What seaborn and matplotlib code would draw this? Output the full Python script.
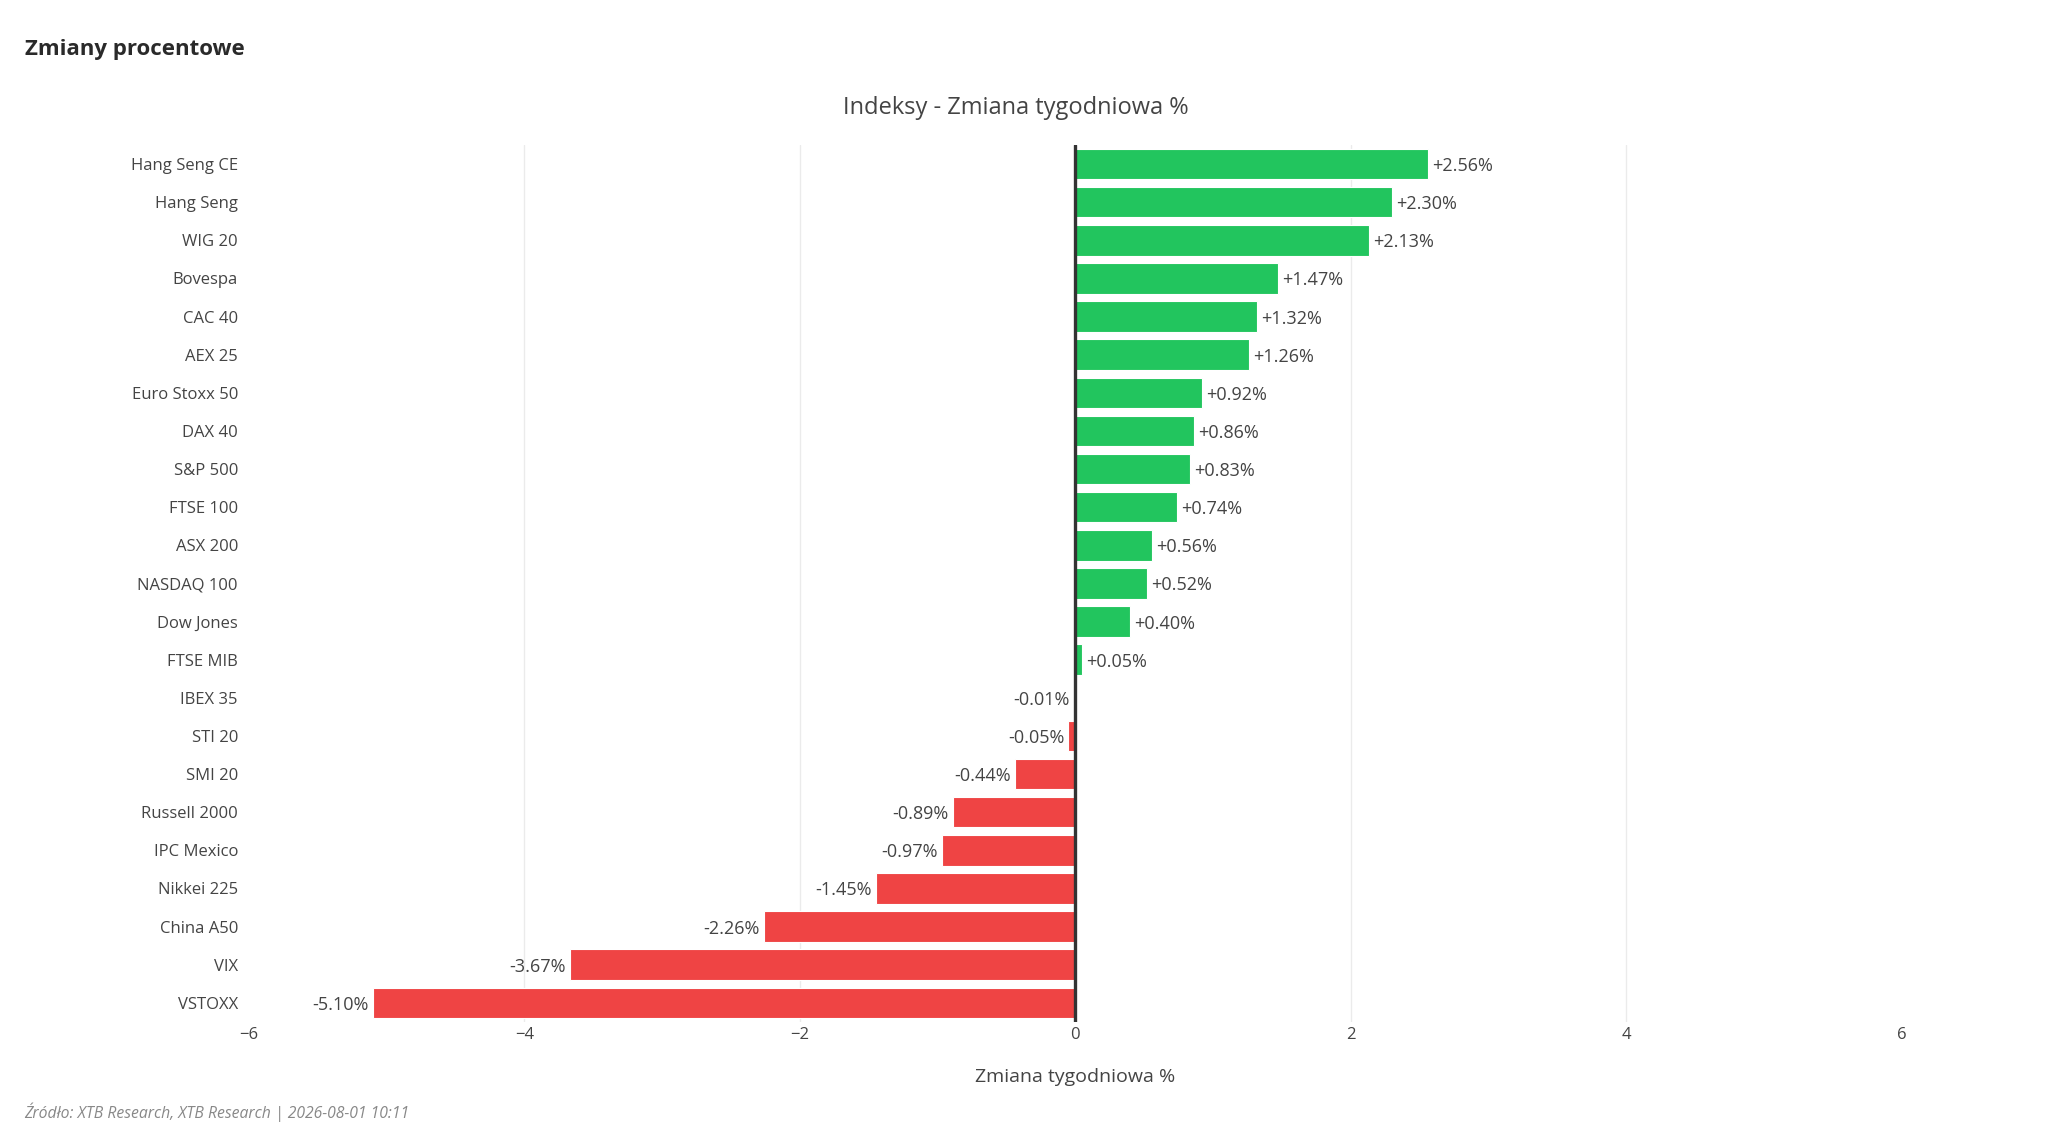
import pandas as pd
import matplotlib.pyplot as plt
import seaborn as sns

# Weekly % changes per index
names = ['Hang Seng CE', 'Hang Seng', 'WIG 20', 'Bovespa', 'CAC 40', 'AEX 25',
         'Euro Stoxx 50', 'DAX 40', 'S&P 500', 'FTSE 100', 'ASX 200', 'NASDAQ 100',
         'Dow Jones', 'FTSE MIB', 'IBEX 35', 'STI 20', 'SMI 20', 'Russell 2000',
         'IPC Mexico', 'Nikkei 225', 'China A50', 'VIX', 'VSTOXX']
changes = [2.56, 2.30, 2.13, 1.47, 1.32, 1.26, 0.92, 0.86, 0.83, 0.74, 0.56, 0.52,
           0.40, 0.05, -0.01, -0.05, -0.44, -0.89, -0.97, -1.45, -2.26, -3.67, -5.10]
x_ticks = [-6, -4, -2, 0, 2, 4, 6]

df = pd.DataFrame({'index': names, 'change': changes})
GREEN = '#22c55e'
RED = '#ef4444'
palette = {n: (GREEN if v >= 0 else RED) for n, v in zip(names, changes)}

sns.set_style('white')
plt.rcParams['font.family'] = ['Open Sans', 'DejaVu Sans']
text_col = '#444444'

fig = plt.figure(figsize=(20.48, 11.48), dpi=100)
ax = fig.add_axes([0.1216, 0.1099, 0.8069, 0.7638])

sns.barplot(data=df, x='change', y='index', hue='index', palette=palette,
            legend=False, orient='h', width=0.8, saturation=1,
            edgecolor='#ffffff', linewidth=0.8, ax=ax)

ax.set_xlim(-6, 6)
ax.set_ylim(len(names) - 0.5, -0.5)
ax.set_xticks(x_ticks)
ax.set_xticklabels(['\u22126', '\u22124', '\u22122', '0', '2', '4', '6'])
for t in [-4, -2, 2, 4]:
    ax.axvline(t, color='#ebebeb', linewidth=1, zorder=0)
ax.axvline(0, color='#333333', linewidth=2.4, zorder=3)

for i, v in enumerate(changes):
    label = f'{v:+.2f}%'
    if v >= 0:
        ax.annotate(label, (v, i), xytext=(3, 0), textcoords='offset points',
                    ha='left', va='center_baseline', fontsize=13, color=text_col)
    else:
        ax.annotate(label, (v, i), xytext=(-3, 0), textcoords='offset points',
                    ha='right', va='center_baseline', fontsize=13, color=text_col)

for s in ax.spines.values():
    s.set_visible(False)
ax.tick_params(axis='y', length=0, pad=8, labelsize=12, labelcolor=text_col)
ax.tick_params(axis='x', length=0, pad=4, labelsize=12, labelcolor=text_col)
ax.set_ylabel('')
ax.set_xlabel('Zmiana tygodniowa %', fontsize=14, color=text_col, labelpad=18)

fig.text(0.4962, 0.906, 'Indeksy - Zmiana tygodniowa %', ha='center', va='center',
         fontsize=17, color=text_col)
fig.text(0.012, 0.957, 'Zmiany procentowe', ha='left', va='center',
         fontsize=16, fontweight='bold', color='#2a2a2a')
fig.text(0.012, 0.031, 'Źródło: XTB Research, XTB Research | 2026-08-01 10:11',
         ha='left', va='center', fontsize=11.3, style='italic', color='#888888')

fig.savefig('out.png', dpi=100, facecolor='white')
